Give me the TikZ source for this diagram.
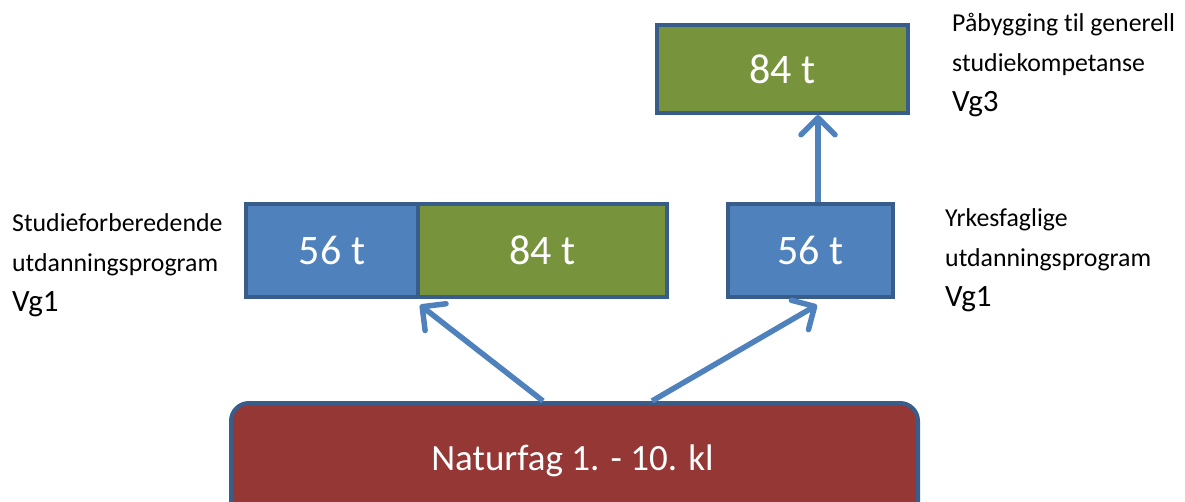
\documentclass[tikz,border=0pt]{standalone}
\usepackage{fontspec}
\setmainfont{Carlito}[Ligatures=NoCommon]
\usetikzlibrary{arrows.meta,calc}
\definecolor{bfill}{HTML}{4F81BD}
\definecolor{gfill}{HTML}{77933C}
\definecolor{rfill}{HTML}{953735}
\definecolor{bline}{HTML}{385D8A}
\tikzset{
  box/.style={draw=bline, line width=4pt, inner sep=0pt, text=white,
    font=\fontsize{42}{48}\selectfont},
  lbl/.style={anchor=base west, inner sep=0pt, text=black,
    font=\fontsize{25.8}{30}\selectfont},
  vg/.style={anchor=base west, inner sep=0pt, text=black,
    font=\fontsize{31}{36}\selectfont},
  arr/.style={draw=bfill, line width=5.5pt,
    -{Straight Barb[length=17pt,width=34pt,round]}},
}
\begin{document}
\begin{tikzpicture}[x=1pt,y=-1pt]
\useasboundingbox (0,0) rectangle (1185,502);
\clip (0,0) rectangle (1185,502);
% boxes
\node[box, fill=bfill, minimum width=172pt, minimum height=93pt] (l56) at (332,250.5) {56 t};
\node[box, fill=gfill, minimum width=249pt, minimum height=93pt] (l84) at (542.5,250.5) {84 t};
\node[box, fill=bfill, minimum width=165pt, minimum height=93pt] (r56) at (810.5,250.5) {56 t};
\node[box, fill=gfill, minimum width=251pt, minimum height=88pt] (t84) at (782.5,69) {84 t};
\node[box, fill=rfill, rounded corners=18pt, minimum width=687pt, minimum height=120pt] (nat) at (574.5,463) {};
\node[text=white, font=\fontsize{37}{42}\selectfont, anchor=base, inner sep=0pt] (natt) at (572.5,470) {Naturfag 1. - 10. kl};
% arrows
\coordinate (la) at (543,0);
\coordinate (ra) at (652,0);
\coordinate (va) at (818,0);
\draw[arr] (nat.north -| la) -- ++(-123,-96);
\draw[arr] (nat.north -| ra) -- ++(165,-96);
\draw[arr] (r56.north -| va) -- (t84.south -| va);
% labels
\node[lbl] (s1) at (12,232) {Studieforberedende};
\node[lbl] (s2) at (12,272) {utdanningsprogram};
\node[vg]  (s3) at (12,312) {Vg1};
\node[lbl] (y1) at (945,227) {Yrkesfaglige};
\node[lbl] (y2) at (945,267) {utdanningsprogram};
\node[vg]  (y3) at (945,307) {Vg1};
\node[lbl] (p1) at (952,32) {Påbygging til generell};
\node[lbl] (p2) at (952,72) {studiekompetanse};
\node[vg]  (p3) at (952,112) {Vg3};
\end{tikzpicture}
\end{document}
